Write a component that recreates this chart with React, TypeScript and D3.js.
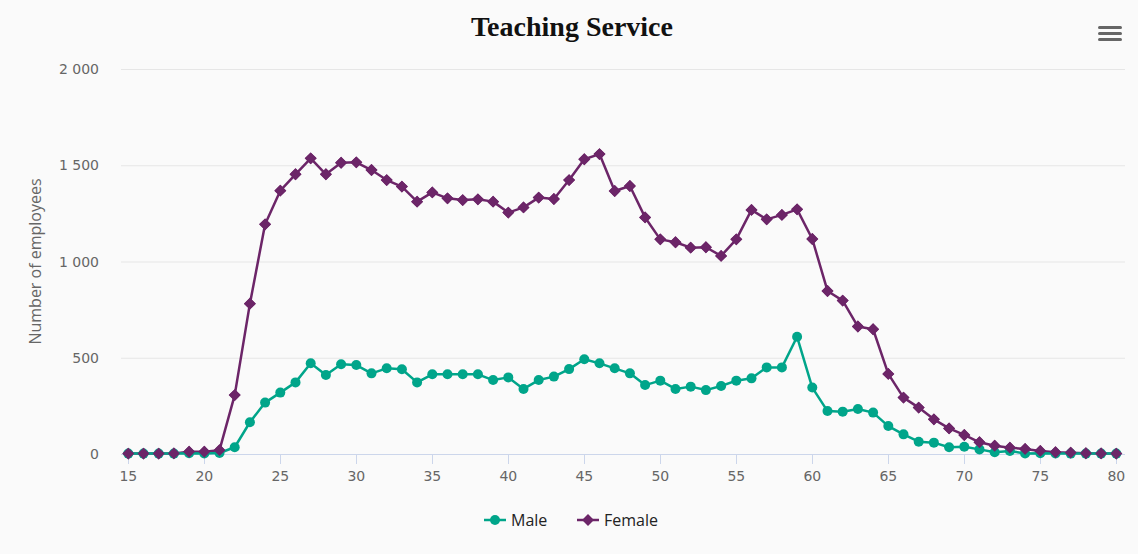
import React, { useEffect, useRef } from 'react';
import * as d3 from 'd3';

const ages = d3.range(15, 81);

const male = [
  2, 2, 2, 2, 4, 3, 5, 35, 165, 267, 319, 372, 471, 410, 466, 462, 419, 445, 440, 372,
  414, 414, 414, 414, 384, 398, 338, 384, 402, 441, 492, 471, 445, 419, 358, 381, 338, 350, 332, 353,
  381, 393, 450, 450, 609, 345, 223, 220, 234, 215, 145, 102, 64, 59, 35, 38, 24, 9, 16, 3,
  4, 3, 2, 2, 2, 2,
];

const female = [
  2, 2, 2, 3, 12, 12, 20, 306, 781, 1193, 1368, 1453, 1536, 1453, 1513, 1515, 1475, 1423, 1389, 1311,
  1359, 1328, 1319, 1323, 1311, 1254, 1281, 1332, 1325, 1423, 1531, 1558, 1366, 1392, 1229, 1115, 1100, 1072, 1074, 1029,
  1115, 1268, 1219, 1242, 1271, 1117, 847, 797, 662, 648, 416, 293, 241, 180, 133, 99, 61, 43, 33, 26,
  16, 9, 7, 4, 3, 2,
];

const yTicks = [0, 500, 1000, 1500, 2000];
const xTicks = d3.range(15, 81, 5);

const MALE_COLOR = '#00a58a';
const FEMALE_COLOR = '#6c2568';

const App = () => {
  const svgRef = useRef<SVGSVGElement>(null);

  useEffect(() => {
    document.body.style.margin = '0';
    const svg = d3.select(svgRef.current);
    svg.selectAll('*').remove();

    const width = 1138;
    const height = 554;
    const plot = { left: 121, right: 1125, top: 69, bottom: 454 };

    svg.attr('width', width).attr('height', height);
    svg.append('rect').attr('width', width).attr('height', height).attr('fill', '#fafafa');

    const x = d3.scaleLinear().domain([15, 80]).range([128.3, 1116.3]);
    const y = d3.scaleLinear().domain([0, 2000]).range([plot.bottom, plot.top]);

    const tickFont = 'DejaVu Sans, sans-serif';

    // title
    svg.append('text')
      .attr('x', 572)
      .attr('y', 36)
      .attr('text-anchor', 'middle')
      .style('font-family', 'Liberation Serif, serif')
      .style('font-weight', 'bold')
      .style('font-size', '28px')
      .style('fill', '#111')
      .text('Teaching Service');

    // menu icon
    [0, 6, 12].forEach(dy => {
      svg.append('rect')
        .attr('x', 1098).attr('y', 26 + dy)
        .attr('width', 24).attr('height', 3).attr('rx', 1.5)
        .attr('fill', '#666');
    });

    // grid
    svg.append('g')
      .selectAll('line')
      .data(yTicks.slice(1))
      .enter()
      .append('line')
      .attr('x1', plot.left)
      .attr('x2', plot.right)
      .attr('y1', d => y(d) + 0.5)
      .attr('y2', d => y(d) + 0.5)
      .attr('stroke', '#e6e6e6')
      .attr('stroke-width', 1);

    // y labels
    svg.append('g')
      .selectAll('text')
      .data(yTicks)
      .enter()
      .append('text')
      .attr('x', 99)
      .attr('y', d => y(d) + 5)
      .attr('text-anchor', 'end')
      .style('font-family', tickFont)
      .style('font-size', '14px')
      .style('fill', '#666')
      .text(d => d3.format(',')(d).replace(/,/g, ' '));

    svg.append('text')
      .attr('transform', `translate(41,${(plot.top + plot.bottom) / 2}) rotate(-90)`)
      .attr('text-anchor', 'middle')
      .style('font-family', 'Open Sans, sans-serif')
      .style('font-size', '16px')
      .style('fill', '#666')
      .text('Number of employees');

    // x axis
    svg.append('line')
      .attr('x1', plot.left).attr('x2', plot.right)
      .attr('y1', plot.bottom + 0.5).attr('y2', plot.bottom + 0.5)
      .attr('stroke', '#ccd6eb');

    const xg = svg.append('g');
    xTicks.forEach(t => {
      xg.append('line')
        .attr('x1', Math.round(x(t)) + 0.5).attr('x2', Math.round(x(t)) + 0.5)
        .attr('y1', plot.bottom).attr('y2', plot.bottom + 10)
        .attr('stroke', '#ccd6eb');
      xg.append('text')
        .attr('x', x(t))
        .attr('y', plot.bottom + 27)
        .attr('text-anchor', 'middle')
        .style('font-family', tickFont)
        .style('font-size', '14px')
        .style('fill', '#666')
        .text(t);
    });

    const line = d3.line<number>()
      .x((_, i) => x(ages[i]))
      .y(d => y(d));

    const diamond = d3.symbol().type(d3.symbolDiamond2).size(90);

    const drawDiamonds = () =>
      svg.append('g')
        .selectAll('path')
        .data(female)
        .enter()
        .append('path')
        .attr('d', diamond)
        .attr('transform', (d, i) => `translate(${x(ages[i])},${y(d)})`)
        .attr('fill', FEMALE_COLOR);

    // female
    svg.append('path')
      .datum(female)
      .attr('d', line)
      .attr('fill', 'none')
      .attr('stroke', FEMALE_COLOR)
      .attr('stroke-width', 2.5)
      .attr('stroke-linejoin', 'round');
    drawDiamonds();

    // male
    svg.append('path')
      .datum(male)
      .attr('d', line)
      .attr('fill', 'none')
      .attr('stroke', MALE_COLOR)
      .attr('stroke-width', 2.5)
      .attr('stroke-linejoin', 'round');
    svg.append('g')
      .selectAll('circle')
      .data(male)
      .enter()
      .append('circle')
      .attr('cx', (_, i) => x(ages[i]))
      .attr('cy', d => y(d))
      .attr('r', 5)
      .attr('fill', MALE_COLOR);

    // female markers sit over the male ones near zero
    drawDiamonds();

    // legend
    const legend = [
      { name: 'Male', color: MALE_COLOR, x: 484, type: 'circle' },
      { name: 'Female', color: FEMALE_COLOR, x: 577, type: 'diamond' },
    ];
    legend.forEach(l => {
      const g = svg.append('g').attr('transform', `translate(${l.x},520)`);
      g.append('line').attr('x1', 0).attr('x2', 22).attr('y1', 0).attr('y2', 0)
        .attr('stroke', l.color).attr('stroke-width', 2.5);
      if (l.type === 'circle') {
        g.append('circle').attr('cx', 11).attr('cy', 0).attr('r', 5).attr('fill', l.color);
      } else {
        g.append('path').attr('d', diamond).attr('transform', 'translate(11,0)').attr('fill', l.color);
      }
      g.append('text')
        .attr('x', 27)
        .attr('y', 6)
        .style('font-family', 'Open Sans, sans-serif')
        .style('font-size', '16px')
        .style('fill', '#222')
        .text(l.name);
    });
  }, []);

  return <svg ref={svgRef} style={{ display: 'block' }}></svg>;
};

export default App;
